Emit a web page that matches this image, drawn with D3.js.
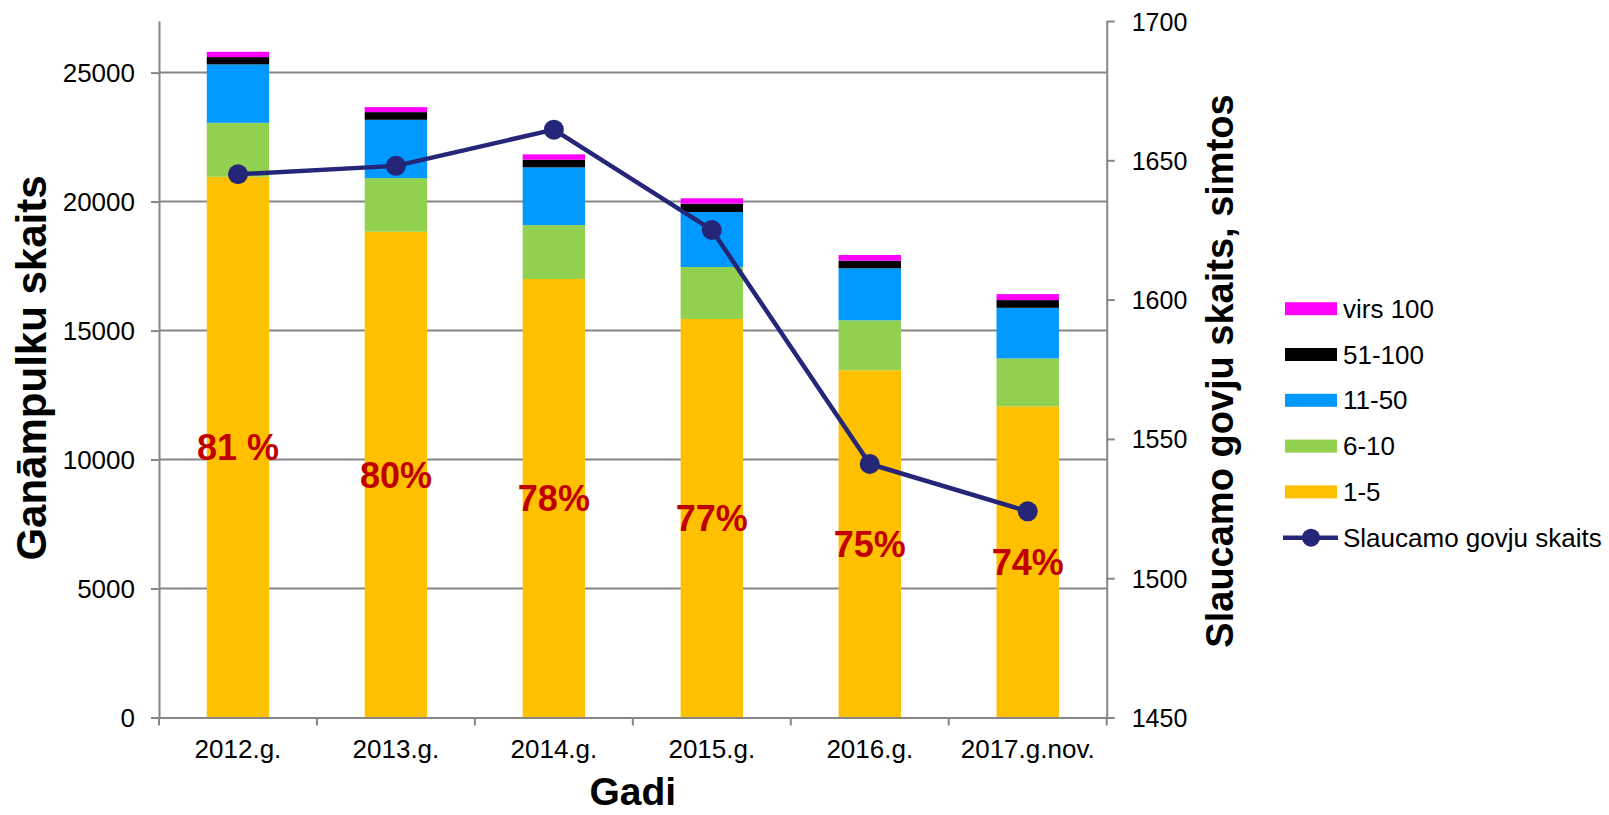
<!DOCTYPE html>
<html>
<head>
<meta charset="utf-8">
<script src="https://cdn.jsdelivr.net/npm/d3@7"></script>
<style>
  html, body { margin: 0; padding: 0; background: #fff; }
  svg { display: block; }
  text { font-family: "Liberation Sans", Arial, sans-serif; }
</style>
</head>
<body>
<svg id="chart" width="1609" height="815"></svg>
<script>
// ---------- data ----------
const categories = ["2012.g.", "2013.g.", "2014.g.", "2015.g.", "2016.g.", "2017.g.nov."];
const herd1_5    = [20960, 18830, 17000, 15450, 13460, 12060];
const herd6_10   = [2094, 2080, 2090, 2015, 1938, 1860];
const herd11_50  = [2264, 2260, 2237, 2132, 2016, 1962];
const herd51_100 = [283, 298, 294, 322, 294, 298];
const herdOver100 = [205, 194, 209, 209, 221, 233];
const milkCows   = [1645, 1648, 1661, 1625, 1541, 1524];   // simtos
const pctLabels  = ["81 %", "80%", "78%", "77%", "75%", "74%"];
const pctLabelAt = [9980, 8880, 8020, 7230, 6230, 5520];    // left-axis value of label baseline
const leftTicks  = [0, 5000, 10000, 15000, 20000, 25000];
const rightTicks = [1450, 1500, 1550, 1600, 1650, 1700];
const seriesNames = ["1-5", "6-10", "11-50", "51-100", "virs 100"];
const seriesColors = ["#FFC000", "#92D050", "#0099FF", "#000000", "#FF00FF"];
const lineName = "Slaucamo govju skaits";
const lineColor = "#262678";

// ---------- layout ----------
const svg = d3.select("#chart");
const plotL = 159, plotR = 1106.7, plotT = 21, plotB = 717.5;
const axisColor = "#868686";

const x = d3.scaleBand().domain(categories).range([plotL, plotR]).padding(0);
const yL = d3.scaleLinear().domain([0, 27000]).range([plotB, plotT]);
const yR = d3.scaleLinear().domain([1450, 1700]).range([plotB, plotT]);
const barW = x.bandwidth() * 0.395;

// gridlines
svg.append("g").selectAll("line").data(leftTicks.filter(d => d > 0)).join("line")
  .attr("x1", plotL).attr("x2", plotR)
  .attr("y1", d => yL(d)).attr("y2", d => yL(d))
  .attr("stroke", axisColor).attr("stroke-width", 2);

// stacked bars
const rows = categories.map((c, i) => ({
  cat: c, "1-5": herd1_5[i], "6-10": herd6_10[i], "11-50": herd11_50[i],
  "51-100": herd51_100[i], "virs 100": herdOver100[i]
}));
const stack = d3.stack().keys(seriesNames)(rows);
svg.append("g").selectAll("g").data(stack).join("g")
  .attr("fill", (d, i) => seriesColors[i])
  .selectAll("rect").data(d => d).join("rect")
  .attr("x", d => x(d.data.cat) + (x.bandwidth() - barW) / 2)
  .attr("width", barW)
  .attr("y", d => yL(d[1]))
  .attr("height", d => yL(d[0]) - yL(d[1]));

// left axis
const gL = svg.append("g").attr("transform", `translate(${plotL},0)`)
  .call(d3.axisLeft(yL).tickValues(leftTicks).tickSize(8).tickSizeOuter(0).tickPadding(16).tickFormat(d3.format("d")));
gL.select(".domain").attr("stroke", axisColor).attr("stroke-width", 2);
gL.selectAll(".tick line").attr("stroke", axisColor).attr("stroke-width", 2);
gL.selectAll(".tick text").attr("font-size", 26).attr("fill", "#000")
  .attr("font-family", "'Liberation Sans', Arial, sans-serif").attr("dy", "0.36em");

// right axis
const gR = svg.append("g").attr("transform", `translate(${plotR},0)`)
  .call(d3.axisRight(yR).tickValues(rightTicks).tickSize(8).tickSizeOuter(0).tickPadding(17).tickFormat(d3.format("d")));
gR.select(".domain").attr("stroke", axisColor).attr("stroke-width", 2);
gR.selectAll(".tick line").attr("stroke", axisColor).attr("stroke-width", 2);
gR.selectAll(".tick text").attr("font-size", 25).attr("fill", "#000")
  .attr("font-family", "'Liberation Sans', Arial, sans-serif").attr("dy", "0.36em");

// bottom axis
const gB = svg.append("g").attr("transform", `translate(0,${plotB})`)
  .call(d3.axisBottom(x).tickSize(0).tickPadding(22));
gB.select(".domain").attr("stroke", axisColor).attr("stroke-width", 2);
gB.selectAll(".tick text").attr("font-size", 26).attr("fill", "#000")
  .attr("font-family", "'Liberation Sans', Arial, sans-serif");
// category boundary ticks
const bounds = categories.map(c => x(c)).concat([plotR]);
gB.append("g").selectAll("line").data(bounds).join("line")
  .attr("x1", d => d).attr("x2", d => d).attr("y1", 0).attr("y2", 8)
  .attr("stroke", axisColor).attr("stroke-width", 2);

// percent labels
svg.append("g").selectAll("text").data(pctLabels).join("text")
  .attr("x", (d, i) => x(categories[i]) + x.bandwidth() / 2)
  .attr("y", (d, i) => yL(pctLabelAt[i]))
  .attr("text-anchor", "middle")
  .attr("font-size", 36).attr("font-weight", "bold").attr("fill", "#C00000")
  .text(d => d);

// line series
const pts = categories.map((c, i) => [x(c) + x.bandwidth() / 2, yR(milkCows[i])]);
svg.append("path").datum(pts)
  .attr("d", d3.line())
  .attr("fill", "none").attr("stroke", lineColor).attr("stroke-width", 4.5)
  .attr("stroke-linejoin", "round");
svg.append("g").selectAll("circle").data(pts).join("circle")
  .attr("cx", d => d[0]).attr("cy", d => d[1]).attr("r", 10).attr("fill", lineColor);

// axis titles
svg.append("text")
  .attr("transform", "translate(46,368) rotate(-90)")
  .attr("text-anchor", "middle").attr("font-size", 42).attr("font-weight", "bold")
  .text("Ganāmpulku skaits");
svg.append("text")
  .attr("transform", "translate(1233,371) rotate(-90)")
  .attr("text-anchor", "middle").attr("font-size", 38).attr("font-weight", "bold")
  .text("Slaucamo govju skaits, simtos");
svg.append("text")
  .attr("x", (plotL + plotR) / 2).attr("y", 805)
  .attr("text-anchor", "middle").attr("font-size", 39).attr("font-weight", "bold")
  .text("Gadi");

// legend
const legendItems = seriesNames.map((n, i) => ({ name: n, color: seriesColors[i], type: "bar" })).reverse()
  .concat([{ name: lineName, color: lineColor, type: "line" }]);
const lg = svg.append("g").attr("transform", "translate(1285,308.7)");
const li = lg.selectAll("g").data(legendItems).join("g")
  .attr("transform", (d, i) => `translate(0,${i * 45.8})`);
li.filter(d => d.type === "bar").append("rect")
  .attr("x", 0).attr("y", -6.5).attr("width", 52).attr("height", 13)
  .attr("fill", d => d.color);
li.filter(d => d.type === "line").append("line")
  .attr("x1", -2).attr("x2", 53).attr("y1", 0).attr("y2", 0)
  .attr("stroke", d => d.color).attr("stroke-width", 4.5);
li.filter(d => d.type === "line").append("circle")
  .attr("cx", 26).attr("cy", 0).attr("r", 9).attr("fill", d => d.color);
li.append("text")
  .attr("x", 58).attr("y", 0).attr("dy", "0.35em")
  .attr("font-size", 26).attr("fill", "#000")
  .text(d => d.name);
</script>
</body>
</html>
